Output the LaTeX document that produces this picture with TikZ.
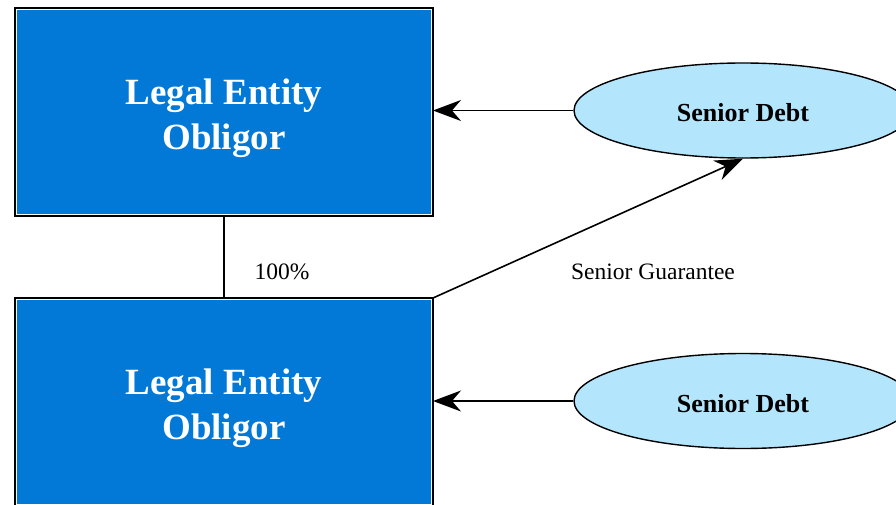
\documentclass[tikz,border=0pt]{standalone}
\usepackage{fontspec}
\setmainfont{Liberation Serif}
\usetikzlibrary{arrows.meta,shapes.geometric}
\definecolor{entityblue}{RGB}{2,120,215}
\definecolor{debtblue}{RGB}{179,229,252}
\begin{document}
\begin{tikzpicture}[x=1pt,y=-1pt,
  entity/.style={draw=black, line width=1.6pt, fill=entityblue, outer sep=0pt,
    minimum width=418pt, minimum height=208pt, inner sep=0pt},
  entitytext/.style={text=white, inner sep=0pt, yshift=-6pt,
    font=\fontsize{37}{45}\selectfont\bfseries, align=center},
  rim/.style={draw=white, line width=0.9pt},
  debt/.style={ellipse, draw=black, line width=1.4pt, fill=debtblue,
    minimum width=338pt, minimum height=95pt, inner sep=0pt},
  debttext/.style={inner sep=0pt, yshift=-2.5pt, font=\fontsize{26}{30}\selectfont\bfseries},
  link/.style={line width=1.6pt},
  flow/.style={link, -{Stealth[length=28pt,width=21pt,inset=9pt]}},
  note/.style={font=\fontsize{23.5}{27}\selectfont}]
\fill[white] (0,0) rectangle (896,505);
\clip (0,0) rectangle (896,505);

% obligor boxes
\node[entity] (top) at (224,112) {};
\node[entity] (sub) at (224,402) {};
\foreach \b in {top,sub}
  \draw[rim] ([shift={(1.3pt,-1.3pt)}]\b.north west) rectangle ([shift={(-1.3pt,1.3pt)}]\b.south east);
\node[entitytext] (topname) at (top.center) {Legal Entity\\Obligor};
\node[entitytext] (subname) at (sub.center) {Legal Entity\\Obligor};

% debt ellipses
\node[debt] (debtA) at (743,110.5) {};
\node[debt] (debtB) at (743,401) {};
\node[debttext] (debtAname) at (debtA.center) {Senior Debt};
\node[debttext] (debtBname) at (debtB.center) {Senior Debt};

% ownership and guarantee links
\draw[link] (top.south) -- (sub.north);
\node[note] (pct) at (282,272) {100\%};
\draw[flow] (debtA.west) -- (top.east |- debtA.west);
\draw[flow] (debtB.west) -- (sub.east |- debtB.west);
\draw[flow] (sub.north east) -- (debtA.south);
\node[note] (guar) at (653,272) {Senior Guarantee};
\end{tikzpicture}
\end{document}
